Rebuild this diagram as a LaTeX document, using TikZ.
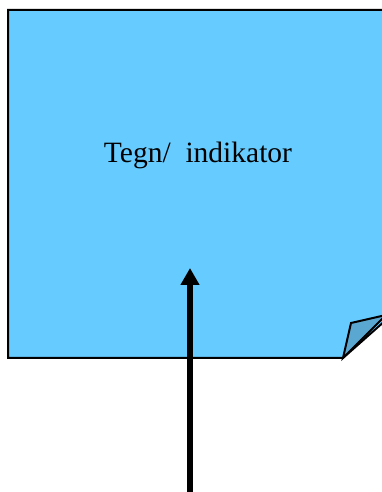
\documentclass[tikz,border=0pt]{standalone}
\usepackage{fontspec}
\setmainfont{Liberation Serif}
\usetikzlibrary{arrows.meta}
\definecolor{notefill}{HTML}{66CCFF}
\definecolor{flapfill}{HTML}{5AA8D2}
\tikzset{
  note/.style={fill=notefill, draw=black, line width=2pt, line join=miter},
  flap/.style={fill=flapfill, draw=black, line width=2pt, line join=miter},
  bigarrow/.style={line width=5.5pt, -{Triangle[length=17pt,width=18pt]}},
  label/.style={font=\fontsize{29.5}{34}\selectfont, inner sep=0pt}
}
\begin{document}
\begin{tikzpicture}[x=1pt,y=1pt]
\useasboundingbox (0,0) rectangle (382,492);
\draw[note] (386,172) -- (386,482) -- (8,482) -- (8,134) -- (343,134) -- cycle;
\draw[flap] (343,134) -- (351,169) -- (386,177) -- cycle;
\node[label, anchor=base] (txt) at (198,329) {Tegn/\ \ indikator};
\coordinate (start) at (190,-2);
\coordinate (tip) at (190,224);
\draw[bigarrow] (start) -- (tip);
\end{tikzpicture}
\end{document}
